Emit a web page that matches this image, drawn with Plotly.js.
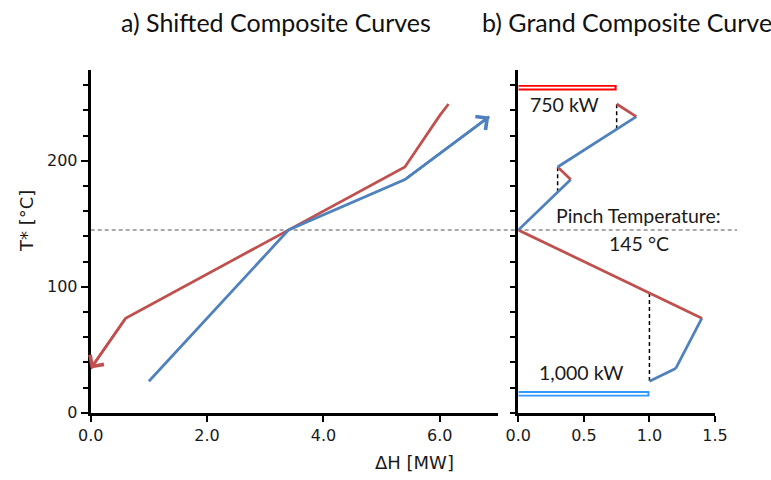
<!DOCTYPE html>
<html>
<head>
<meta charset="utf-8">
<script src="https://cdn.plot.ly/plotly-3.0.1.min.js"></script>
<style>html,body{margin:0;padding:0;background:#fff;}#chart{width:771px;height:480px;}</style>
</head>
<body>
<div id="chart"></div>
<script>
// ---- Data ----
// a) Shifted composite curves (ΔH in MW, T* in °C)
const hotH  = [6.15, 6.0, 5.4, 3.4, 0.6, 0.0];
const hotT  = [245, 236, 195, 145, 75, 35];
const coldH = [1.0, 3.4, 5.4, 6.85];
const coldT = [25, 145, 185, 235];

// b) Grand composite curve (ΔH in MW, T* in °C)
const gccH = [1.0, 1.2, 1.4, 0.0, 0.4, 0.3, 0.9, 0.75];
const gccT = [25, 35, 75, 145, 185, 195, 235, 245];
const gccSegType = ['cold', 'cold', 'hot', 'cold', 'hot', 'cold', 'hot'];

// pockets (vertical dashed lines)
const pocketH  = [0.3, 0.75, 1.0];
const pocketT0 = [175, 225, 95];
const pocketT1 = [195, 245, 25];

// utilities
const hotUtilityH = 0.75, hotUtilityT = 258;
const coldUtilityH = 1.0, coldUtilityT = 15;
const pinchT = 145;

const xTicksA = [0, 2, 4, 6];
const xTicksB = [0, 0.5, 1.0, 1.5];
const yTicksA = [0, 100, 200];

// ---- Styles ----
const W = 771, H = 480;
const RED = '#C0504D', BLUE = '#4F81BD';
const px = x => x / W, py = y => 1 - y / H;
const tickFont = {family: 'DejaVu Sans, Liberation Sans, Arial, sans-serif', size: 16, color: '#1a1a1a'};
const txtFont = {family: 'Lato, Carlito, Calibri, sans-serif', size: 19.5, color: '#1a1a1a'};
const titleFont = {family: 'Lato, Carlito, Calibri, sans-serif', size: 25, color: '#111'};
const axTitleFont = {family: 'DejaVu Sans, Liberation Sans, Arial, sans-serif', size: 18, color: '#1a1a1a'};

const traces = [];
// left
traces.push({x: hotH, y: hotT, xaxis: 'x', yaxis: 'y', mode: 'lines', line: {color: RED, width: 2.75}, hoverinfo: 'skip'});
traces.push({x: coldH, y: coldT, xaxis: 'x', yaxis: 'y', mode: 'lines', line: {color: BLUE, width: 2.75}, hoverinfo: 'skip'});
// right: pockets
for (let i = 0; i < pocketH.length; i++) {
  traces.push({x: [pocketH[i], pocketH[i]], y: [pocketT0[i], pocketT1[i]], xaxis: 'x2', yaxis: 'y2', mode: 'lines',
    line: {color: '#000', width: 1.5, dash: '4px,3px'}, hoverinfo: 'skip'});
}
// right: gcc segments
for (let i = 0; i < gccSegType.length; i++) {
  traces.push({x: [gccH[i], gccH[i + 1]], y: [gccT[i], gccT[i + 1]], xaxis: 'x2', yaxis: 'y2', mode: 'lines',
    line: {color: gccSegType[i] === 'hot' ? RED : BLUE, width: 2.75}, hoverinfo: 'skip'});
}
// utilities as outlined bars
const pxUnit2 = 1.5 / (715 - 518.3);
function utilBar(val, T, col) {
  traces.push({x: [0, val], y: [T, T], xaxis: 'x2', yaxis: 'y2', mode: 'lines', line: {color: col, width: 5.5}, hoverinfo: 'skip'});
  traces.push({x: [0, val - 2 * pxUnit2], y: [T, T], xaxis: 'x2', yaxis: 'y2', mode: 'lines', line: {color: '#fff', width: 1.8}, hoverinfo: 'skip'});
}
utilBar(hotUtilityH, hotUtilityT, '#FF0000');
utilBar(coldUtilityH, coldUtilityT, '#3399FF');

const n = hotH.length, m = coldH.length;
const annotations = [
  // arrowheads
  {x: hotH[n - 1], y: hotT[n - 1], ax: hotH[n - 2], ay: hotT[n - 2], xref: 'x', yref: 'y', axref: 'x', ayref: 'y',
   showarrow: true, arrowhead: 4, arrowsize: 1.3, arrowwidth: 2.5, arrowcolor: RED, text: ''},
  {x: coldH[m - 1], y: coldT[m - 1], ax: coldH[m - 2], ay: coldT[m - 2], xref: 'x', yref: 'y', axref: 'x', ayref: 'y',
   showarrow: true, arrowhead: 4, arrowsize: 1.3, arrowwidth: 2.5, arrowcolor: BLUE, text: ''},
  // titles
  {text: 'a) Shifted Composite Curves', xref: 'paper', yref: 'paper', x: px(276), y: py(22), xanchor: 'center', yanchor: 'middle',
   showarrow: false, font: titleFont},
  {text: 'b) Grand Composite Curve', xref: 'paper', yref: 'paper', x: px(480), y: py(22), xanchor: 'left', yanchor: 'middle',
   showarrow: false, font: titleFont},
  // axis titles
  {text: 'T* [°C]', xref: 'paper', yref: 'paper', x: px(26), y: py(221), xanchor: 'center', yanchor: 'middle', textangle: -90,
   showarrow: false, font: axTitleFont},
  {text: 'ΔH [MW]', xref: 'paper', yref: 'paper', x: px(414), y: py(462), xanchor: 'center', yanchor: 'middle',
   showarrow: false, font: axTitleFont},
  // right plot labels
  {text: '750 kW', xref: 'paper', yref: 'paper', x: px(564), y: py(104), xanchor: 'center', yanchor: 'middle', showarrow: false, font: txtFont},
  {text: '1,000 kW', xref: 'paper', yref: 'paper', x: px(581), y: py(372), xanchor: 'center', yanchor: 'middle', showarrow: false, font: txtFont},
  {text: 'Pinch Temperature:', xref: 'paper', yref: 'paper', x: px(638), y: py(216), xanchor: 'center', yanchor: 'middle', showarrow: false, font: txtFont},
  {text: pinchT + ' °C', xref: 'paper', yref: 'paper', x: px(639), y: py(243), xanchor: 'center', yanchor: 'middle', showarrow: false, font: txtFont}
];

const yDom = [(H - 412.7) / H, (H - 70) / H];
const axCommon = {showline: true, linecolor: '#000', linewidth: 3, showgrid: false, zeroline: false, ticks: 'outside',
  tickcolor: '#000', tickwidth: 2, tickfont: tickFont, layer: 'above traces', fixedrange: true};

const layout = {
  width: W, height: H,
  margin: {l: 0, r: 0, t: 0, b: 0},
  paper_bgcolor: '#fff', plot_bgcolor: 'rgba(0,0,0,0)',
  showlegend: false,
  xaxis: Object.assign({}, axCommon, {domain: [90.7 / W, 498 / W], range: [0, 7], tickvals: xTicksA, tickformat: '.1f', ticklen: 6, anchor: 'y'}),
  yaxis: Object.assign({}, axCommon, {domain: yDom, range: [0, 272], tickvals: yTicksA, ticklen: 7, anchor: 'x',
    minor: {dtick: 20, tick0: 0, ticks: 'outside', ticklen: 5, tickwidth: 2, tickcolor: '#000', showgrid: false}}),
  xaxis2: Object.assign({}, axCommon, {domain: [518.3 / W, 715 / W], range: [0, 1.5], tickvals: xTicksB, tickformat: '.1f', ticklen: 6, anchor: 'y2'}),
  yaxis2: Object.assign({}, axCommon, {domain: yDom, range: [0, 272], dtick: 20, tick0: 0, showticklabels: false, ticklen: 5, anchor: 'x2'}),
  shapes: [
    {type: 'line', xref: 'paper', yref: 'y', x0: px(90.7), x1: px(737), y0: pinchT, y1: pinchT,
     line: {color: '#555', width: 1, dash: '4px,3px'}, layer: 'below'}
  ],
  annotations: annotations
};

Plotly.newPlot('chart', traces, layout, {staticPlot: true, displayModeBar: false});
</script>
</body>
</html>
